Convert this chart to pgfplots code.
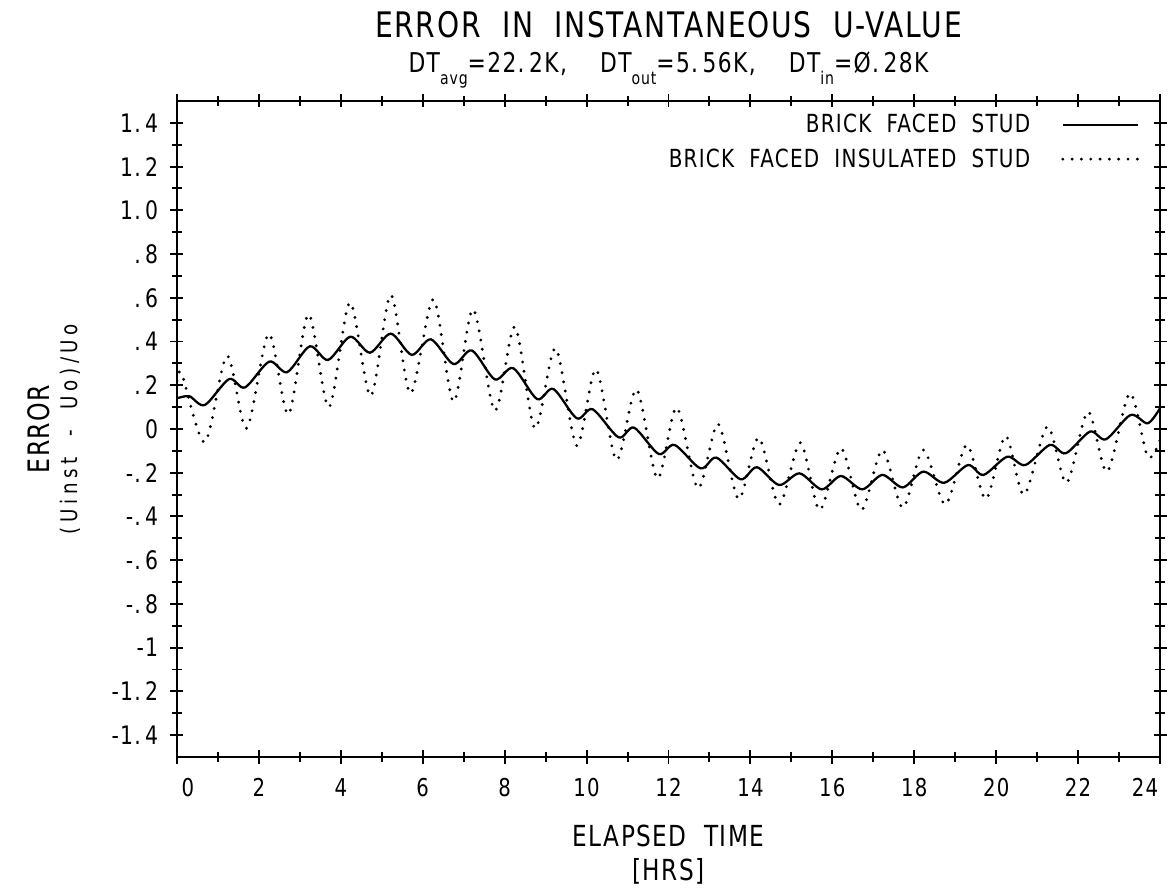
\documentclass[border=0pt]{standalone}
\usepackage{fontspec}
\setmainfont{DejaVu Sans}[FakeStretch=0.8, WordSpace=2, LetterSpace=5]
\usepackage{pgfplots}
\pgfplotsset{compat=1.18}

\newcommand{\sub}[1]{\raisebox{-0.45em}{\fontsize{10}{12}\selectfont #1}}

\begin{document}
\begin{tikzpicture}
\path[use as bounding box] (-3.54,-2.68) rectangle (19.82,15.14);
\begin{axis}[
	name=ax,
	at={(0,0)}, anchor=south west,
	scale only axis,
	width=19.66cm,
	height=13.12cm,
	xmin=0, xmax=24,
	ymin=-1.5, ymax=1.5,
	axis line style={line width=1.3pt},
	tick style={line width=1.1pt, black},
	tick align=center,
	major tick length=0.26cm,
	minor tick length=0.2cm,
	xtick={0,2,4,6,8,10,12,14,16,18,20,22,24},
	minor xtick={1,3,5,7,9,11,13,15,17,19,21,23},
	xticklabels={\hspace*{0.44cm}0,2,4,6,8,10,12,14,16,18,20,22,24\hspace*{0.6cm}},
	ytick={-1.4,-1.2,-1,-0.8,-0.6,-0.4,-0.2,0,0.2,0.4,0.6,0.8,1,1.2,1.4},
	minor ytick={-1.3,-1.1,-0.9,-0.7,-0.5,-0.3,-0.1,0.1,0.3,0.5,0.7,0.9,1.1,1.3},
	yticklabels={-1.\,4,-1.\,2,-1,-.\,8,-.\,6,-.\,4,-.\,2,0,.\,2,.\,4,.\,6,.\,8,1.\,0,1.\,2,1.\,4},
	xticklabel style={anchor=north, inner sep=0pt, yshift=-0.29cm, font=\fontsize{14}{16}\selectfont},
	yticklabel style={anchor=east, inner sep=0pt, xshift=-0.24cm, font=\fontsize{14.5}{17}\selectfont},
	legend plot pos=right,
	legend cell align=right,
	legend image code/.code={\draw[#1] (0cm,0cm) -- (1.5cm,0cm);},
	legend style={at={(1,1)}, anchor=north east, xshift=-0.3cm, yshift=-0.12cm,
		draw=none, fill=none, row sep=0.12cm, column sep=0.55cm,
		font=\fontsize{14.2}{16}\selectfont},
]

% brick faced stud
\addplot[black, line width=1.3pt, smooth] coordinates {
	(0,0.14) (0.3,0.15) (0.68,0.11) (1.27,0.228) (1.66,0.19) (2.25,0.308)
	(2.69,0.26) (3.24,0.378) (3.69,0.316) (4.23,0.422) (4.71,0.349) (5.22,0.436)
	(5.73,0.339) (6.2,0.41) (6.75,0.297) (7.2,0.359) (7.76,0.227) (8.21,0.278)
	(8.79,0.137) (9.19,0.183) (9.76,0.049) (10.15,0.09) (10.78,-0.038) (11.16,0.006)
	(11.76,-0.114) (12.15,-0.073) (12.78,-0.18) (13.17,-0.131) (13.76,-0.23) (14.16,-0.175)
	(14.7,-0.256) (15.2,-0.203) (15.74,-0.276) (16.21,-0.215) (16.73,-0.276) (17.22,-0.21)
	(17.72,-0.267) (18.22,-0.195) (18.73,-0.246) (19.31,-0.165) (19.69,-0.21) (20.27,-0.127)
	(20.71,-0.165) (21.31,-0.073) (21.7,-0.111) (22.29,-0.012) (22.68,-0.047) (23.28,0.064)
	(23.7,0.026) (24,0.095)};
\addlegendentry{BRICK FACED STUD}

% brick faced insulated stud
\addplot[black, line width=1.8pt, line cap=round, dash pattern=on 0pt off 5.3pt, smooth] coordinates {
	(0,0.22) (0.12,0.25) (0.68,-0.06) (1.22,0.334) (1.7,0.003) (2.24,0.435)
	(2.72,0.067) (3.21,0.524) (3.71,0.10) (4.22,0.578) (4.73,0.151) (5.22,0.613)
	(5.7,0.163) (6.26,0.593) (6.75,0.125) (7.23,0.547) (7.76,0.084) (8.25,0.467)
	(8.74,0.003) (9.24,0.369) (9.76,-0.076) (10.23,0.273) (10.73,-0.142) (11.22,0.181)
	(11.73,-0.226) (12.2,0.098) (12.72,-0.271) (13.21,0.023) (13.71,-0.32) (14.2,-0.04)
	(14.7,-0.345) (15.22,-0.063) (15.69,-0.37) (16.21,-0.088) (16.71,-0.37) (17.22,-0.096)
	(17.72,-0.36) (18.22,-0.096) (18.76,-0.345) (19.28,-0.073) (19.75,-0.32) (20.23,-0.032)
	(20.68,-0.30) (21.25,0.011) (21.72,-0.246) (22.24,0.079) (22.71,-0.195) (23.26,0.163)
	(23.7,-0.127) (24,-0.05)};
\addlegendentry{BRICK FACED INSULATED STUD}
\end{axis}

\node[anchor=base, font=\fontsize{20}{24}\selectfont] at ([yshift=1.274cm]ax.north) {ERROR IN INSTANTANEOUS U-VALUE};
\node[anchor=base, font=\fontsize{15.5}{18}\selectfont] at ([yshift=0.574cm]ax.north)
	{DT\sub{avg}=22.\,2K,\ \ DT\sub{out}=5.\,56K,\ \ DT\sub{in}=Ø.\,28K};
\node[anchor=base, font=\fontsize{16.5}{19}\selectfont] at ([yshift=-1.8cm]ax.south) {ELAPSED TIME};
\node[anchor=base, font=\fontsize{16.5}{19}\selectfont] at ([yshift=-2.48cm]ax.south) {[HRS]};
\node[rotate=90, font=\fontsize{16.8}{19}\selectfont] at ([xshift=-2.76cm]ax.west) {ERROR};
\node[rotate=90, font=\fontsize{13}{15}\selectfont\addfontfeatures{LetterSpace=20}] at ([xshift=-2.14cm]ax.west) {(Uinst - Uo)/Uo};
\end{tikzpicture}
\end{document}
